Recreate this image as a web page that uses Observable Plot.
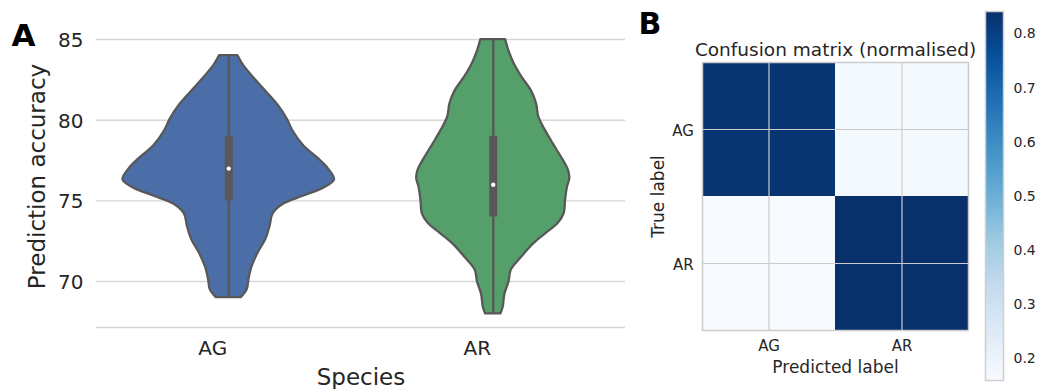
<!DOCTYPE html>
<html>
<head>
<meta charset="utf-8">
<script src="https://cdn.jsdelivr.net/npm/d3@7"></script>
<script src="https://cdn.jsdelivr.net/npm/@observablehq/plot@0.6"></script>
<style>
  html, body { margin: 0; padding: 0; background: white; }
  #wrap { position: relative; width: 1037px; height: 389px; overflow: hidden; font-family: "DejaVu Sans", sans-serif; }
  .panel { position: absolute; top: 0; }
  .panel svg { max-width: none !important; overflow: visible; background: transparent; }
</style>
</head>
<body>
<div id="wrap">
  <div class="panel" id="pa" style="left:0px;width:640px;"></div>
  <div class="panel" id="pb" style="left:620px;width:370px;"></div>
  <div class="panel" id="pc" style="left:960px;width:77px;"></div>
</div>
<script>
// ---------- Panel A data: violin densities ----------
const species = ["AG", "AR"];
const speciesColors = ["#4c6ea8", "#55a06a"];
const yTicks = [70, 75, 80, 85];

const agValues  = [84.0, 83.4, 82.6, 81.8, 80.9, 80.1, 79.3, 78.4, 77.6, 77.0, 76.3, 75.8, 75.3, 74.8, 74.2, 73.4, 72.6, 71.8, 70.9, 70.1, 69.5, 69.0];
const agDensity = [0.087, 0.14, 0.24, 0.35, 0.47, 0.55, 0.61, 0.71, 0.85, 0.94, 1.0, 0.90, 0.71, 0.52, 0.42, 0.39, 0.35, 0.28, 0.22, 0.19, 0.175, 0.118];

const arValues  = [85.0, 84.3, 83.5, 82.7, 81.8, 81.0, 80.2, 79.4, 78.5, 77.7, 76.9, 76.4, 75.8, 75.0, 74.2, 73.6, 73.0, 72.3, 71.5, 70.7, 70.0, 69.2, 68.4, 68.0];
const arDensity = [0.117, 0.148, 0.198, 0.268, 0.362, 0.41, 0.43, 0.49, 0.57, 0.645, 0.71, 0.724, 0.70, 0.683, 0.67, 0.613, 0.504, 0.377, 0.268, 0.17, 0.15, 0.11, 0.094, 0.073];

// box statistics: [min, q1, median, q3, max]
const agStats = [69, 75, 77, 79, 84];
const arStats = [68, 74, 76, 79, 85];

// ---------- Panel B data: normalised confusion matrix ----------
const cmLabels = ["AG", "AR"];
const cmRowAG = [0.83, 0.17];
const cmRowAR = [0.1594, 0.8406];
const cbTicks = [0.2, 0.3, 0.4, 0.5, 0.6, 0.7, 0.8];

// ---------- build tables ----------
const violin = [
  ...agValues.map((v, k) => ({species: "AG", pos: 0, value: v, density: agDensity[k]})),
  ...arValues.map((v, k) => ({species: "AR", pos: 1, value: v, density: arDensity[k]}))
];
const stats = [agStats, arStats].map((s, i) => ({pos: i, min: s[0], q1: s[1], median: s[2], q3: s[3], max: s[4]}));
const halfWidth = 0.4;
const yDomain = [67.15, 86.18];
const gray = "#585858";
const txt = "#262626";
const font = "DejaVu Sans";

const plotA = Plot.plot({
  width: 640, height: 389,
  marginLeft: 96, marginRight: 15, marginTop: 20, marginBottom: 62,
  style: {fontFamily: font, background: "transparent", color: txt},
  x: {domain: [-0.5, 1.5]},
  y: {domain: yDomain},
  color: {domain: species, range: speciesColors},
  marks: [
    Plot.ruleY(yTicks, {stroke: "#d6d6d6", strokeWidth: 1.4}),
    Plot.ruleY([yDomain[0]], {stroke: "#d6d6d6", strokeWidth: 1.4}),
    Plot.areaX(violin, {
      y: "value",
      x1: d => d.pos - halfWidth * d.density,
      x2: d => d.pos + halfWidth * d.density,
      fill: "species",
      stroke: gray, strokeWidth: 2.3, strokeLinejoin: "round",
      curve: "catmull-rom"
    }),
    Plot.ruleX(stats, {x: "pos", y1: "min", y2: "max", stroke: gray, strokeWidth: 2.4}),
    Plot.ruleX(stats, {x: "pos", y1: "q1", y2: "q3", stroke: gray, strokeWidth: 8}),
    Plot.dot(stats, {x: "pos", y: "median", r: 2.2, fill: "white", stroke: null}),
    Plot.axisY({ticks: yTicks, tickSize: 0, tickPadding: 13, fontSize: 20, dy: 1, label: null, color: txt}),
    Plot.axisX({ticks: [0, 1], tickFormat: i => species[i], tickSize: 0, tickPadding: 12.8, fontSize: 20, dx: -16, label: null, color: txt}),
    Plot.text(["Prediction accuracy"], {frameAnchor: "left", text: d => d, rotate: -90, textAnchor: "middle", lineAnchor: "bottom", dx: -52, dy: 2.5, fontSize: 23, fill: txt}),
    Plot.text(["Species"], {frameAnchor: "bottom", text: d => d, textAnchor: "middle", lineAnchor: "bottom", dy: 57, fontSize: 23, fill: txt}),
    Plot.text(["A"], {frameAnchor: "top-left", text: d => d, textAnchor: "start", lineAnchor: "bottom", dx: -85, dy: 25, fontSize: 31, fontWeight: "bold", fill: "black"})
  ]
});
document.getElementById("pa").appendChild(plotA);

// ---------- Panel B: confusion matrix ----------
const cells = [];
[cmRowAG, cmRowAR].forEach((row, r) => row.forEach((v, c) => cells.push({truth: cmLabels[r], pred: cmLabels[c], value: v})));
const cmMin = d3.min(cells, d => d.value), cmMax = d3.max(cells, d => d.value);
const bluesStops = ["#f7fbff", "#deebf7", "#c6dbef", "#9ecae1", "#6baed6", "#4292c6", "#2171b5", "#08519c", "#08306b"];
const colorScale = {
  type: "linear",
  domain: bluesStops.map((_, i) => cmMin + i * (cmMax - cmMin) / (bluesStops.length - 1)),
  range: bluesStops,
  interpolate: "rgb"
};

const plotB = Plot.plot({
  width: 370, height: 389,
  marginLeft: 82, marginRight: 22, marginTop: 62, marginBottom: 59,
  style: {fontFamily: font, background: "transparent", color: txt},
  x: {domain: cmLabels, padding: 0},
  y: {domain: cmLabels, padding: 0},
  color: colorScale,
  marks: [
    Plot.cell(cells, {x: "pred", y: "truth", fill: "value"}),
    Plot.gridX({stroke: "#cccccc", strokeOpacity: 1, strokeWidth: 1.2}),
    Plot.gridY({stroke: "#cccccc", strokeOpacity: 1, strokeWidth: 1.2}),
    Plot.frame({stroke: "#cccccc", strokeWidth: 1.5}),
    Plot.axisX({tickSize: 0, tickPadding: 10, fontSize: 15, label: null, color: txt}),
    Plot.axisY({tickSize: 0, tickPadding: 8.7, fontSize: 15, dy: 1.5, label: null, color: txt}),
    Plot.text(["Confusion matrix (normalised)"], {frameAnchor: "top", text: d => d, textAnchor: "middle", lineAnchor: "bottom", dy: -7, fontSize: 18.5, fill: txt}),
    Plot.text(["Predicted label"], {frameAnchor: "bottom", text: d => d, textAnchor: "middle", lineAnchor: "bottom", dy: 42.7, fontSize: 17, fill: txt}),
    Plot.text(["True label"], {frameAnchor: "left", text: d => d, rotate: -90, textAnchor: "middle", lineAnchor: "bottom", dx: -39, fontSize: 17, fill: txt}),
    Plot.text(["B"], {frameAnchor: "top-left", text: d => d, textAnchor: "start", lineAnchor: "bottom", dx: -64, dy: -28.7, fontSize: 30, fontWeight: "bold", fill: "black"})
  ]
});
document.getElementById("pb").appendChild(plotB);

// ---------- Colorbar ----------
const nSteps = 200;
const steps = d3.range(nSteps).map(i => {
  const a = cmMin + (cmMax - cmMin) * i / nSteps;
  const b = cmMin + (cmMax - cmMin) * (i + 1) / nSteps;
  return {y1: a, y2: b, v: (a + b) / 2};
});
const plotC = Plot.plot({
  width: 77, height: 389,
  marginLeft: 25, marginRight: 34, marginTop: 11, marginBottom: 9,
  style: {fontFamily: font, background: "transparent", color: txt},
  x: {domain: [0, 1], axis: null},
  y: {domain: [cmMin, cmMax]},
  color: colorScale,
  marks: [
    Plot.rect(steps, {x1: 0, x2: 1, y1: "y1", y2: "y2", fill: "v", shapeRendering: "crispEdges"}),
    Plot.frame({stroke: "#cfcfcf", strokeWidth: 1.5}),
    Plot.axisY({anchor: "right", ticks: cbTicks, tickFormat: d3.format(".1f"), tickSize: 0, tickPadding: 10, fontSize: 14, dy: 0.5, label: null, color: txt})
  ]
});
document.getElementById("pc").appendChild(plotC);
</script>
</body>
</html>
